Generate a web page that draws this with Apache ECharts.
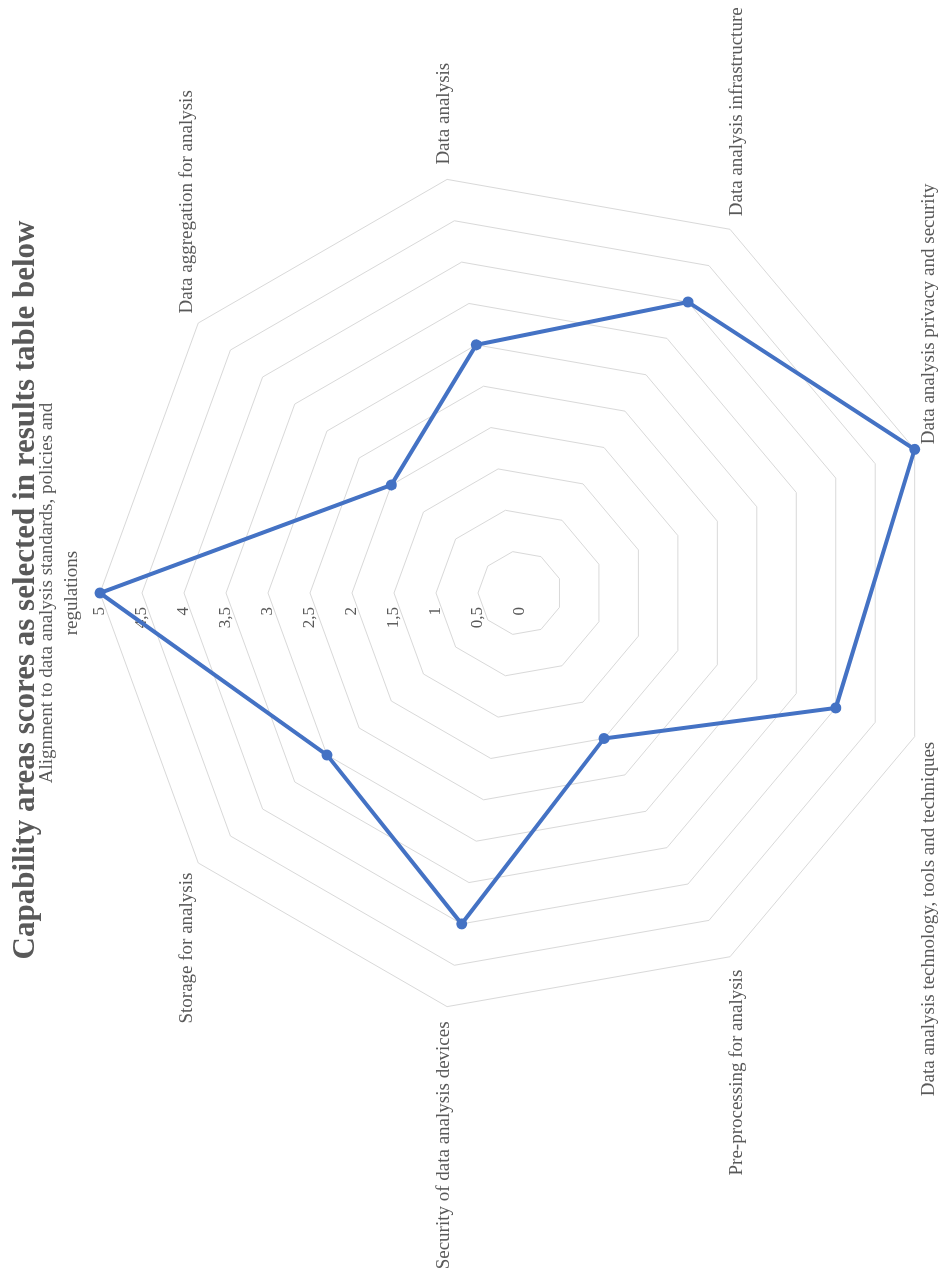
<!DOCTYPE html>
<html>
<head>
<meta charset="utf-8">
<script src="https://cdn.jsdelivr.net/npm/echarts@6/dist/echarts.min.js"></script>
<style>
  html, body { margin: 0; padding: 0; width: 942px; height: 1275px; overflow: hidden; background: #ffffff; }
  /* The chart is laid out landscape and turned a quarter turn counter-clockwise onto the portrait page */
  #chart {
    position: absolute; left: 0; top: 0;
    width: 1275px; height: 942px;
    transform-origin: 0 0;
    transform: translate(0, 1275px) rotate(-90deg);
  }
</style>
</head>
<body>
<div id="chart"></div>
<script>
const titleText = 'Capability areas scores as selected in results table below';

// categories in clockwise order, starting from the top spoke
const categories = [
  'Alignment to data analysis standards, policies and regulations',
  'Data aggregation for analysis',
  'Data analysis',
  'Data analysis infrastructure',
  'Data analysis privacy and security',
  'Data analysis technology, tools and techniques',
  'Pre-processing for analysis',
  'Security of data analysis devices',
  'Storage for analysis'
];

const scores = [5, 2, 3, 4, 5, 4, 2, 4, 3];

const scaleMin = 0;
const scaleMax = 5;
const scaleStep = 0.5;

const textColor = '#595959';
const gridColor = '#d9d9d9';
const lineColor = '#4472C4';
const fontFamily = '"Liberation Serif", "DejaVu Serif", serif';
const nameFontSize = 19;
const nameMaxWidth = 400;

// word-wrap a category name so no line is wider than maxWidth
const measureCtx = document.createElement('canvas').getContext('2d');
function wrapName(text, maxWidth) {
  measureCtx.font = nameFontSize + 'px ' + fontFamily;
  const words = text.split(' ');
  const lines = [];
  let line = '';
  words.forEach(function (w) {
    const test = line ? line + ' ' + w : w;
    if (line && measureCtx.measureText(test).width > maxWidth) {
      lines.push(line);
      line = w;
    } else {
      line = test;
    }
  });
  if (line) lines.push(line);
  return lines.join('\n');
}

// ECharts lays radar spokes out counter-clockwise; keep the first spoke on top
// and walk the rest backwards so the categories run clockwise.
const order = [0].concat(categories.map(function (_, i) { return i; }).slice(1).reverse());

const indicators = order.map(function (i) {
  const ind = { name: categories[i], min: scaleMin, max: scaleMax };
  if (i === 0) {
    // value scale is printed along the first spoke only
    ind.axisLabel = { show: true };
    ind.nameGap = 15;
  }
  return ind;
});
const orderedScores = order.map(function (i) { return scores[i]; });

const chart = echarts.init(document.getElementById('chart'), null, { renderer: 'canvas' });

chart.setOption({
  backgroundColor: '#ffffff',
  animation: false,
  title: {
    text: titleText,
    left: 680,
    top: 5,
    textAlign: 'center',
    textStyle: {
      color: textColor,
      fontFamily: fontFamily,
      fontWeight: 'bold',
      fontSize: 31
    }
  },
  radar: {
    center: [682, 520],
    radius: 420,
    startAngle: 90,
    splitNumber: Math.round((scaleMax - scaleMin) / scaleStep),
    shape: 'polygon',
    nameGap: 15,
    indicator: indicators,
    axisName: {
      color: textColor,
      fontFamily: fontFamily,
      fontSize: nameFontSize,
      lineHeight: 25,
      formatter: function (name) { return wrapName(name, nameMaxWidth); }
    },
    axisLine: { show: false },
    axisTick: { show: false },
    axisLabel: {
      show: false,
      color: textColor,
      fontFamily: fontFamily,
      fontSize: 17,
      margin: 14,
      formatter: function (v) { return String(v).replace('.', ','); }
    },
    splitLine: { lineStyle: { color: gridColor, width: 1 } },
    splitArea: { show: false }
  },
  series: [{
    type: 'radar',
    symbol: 'circle',
    symbolSize: 11,
    lineStyle: { color: lineColor, width: 4 },
    itemStyle: { color: lineColor },
    data: [{ value: orderedScores, name: 'Score' }]
  }]
});
</script>
</body>
</html>
